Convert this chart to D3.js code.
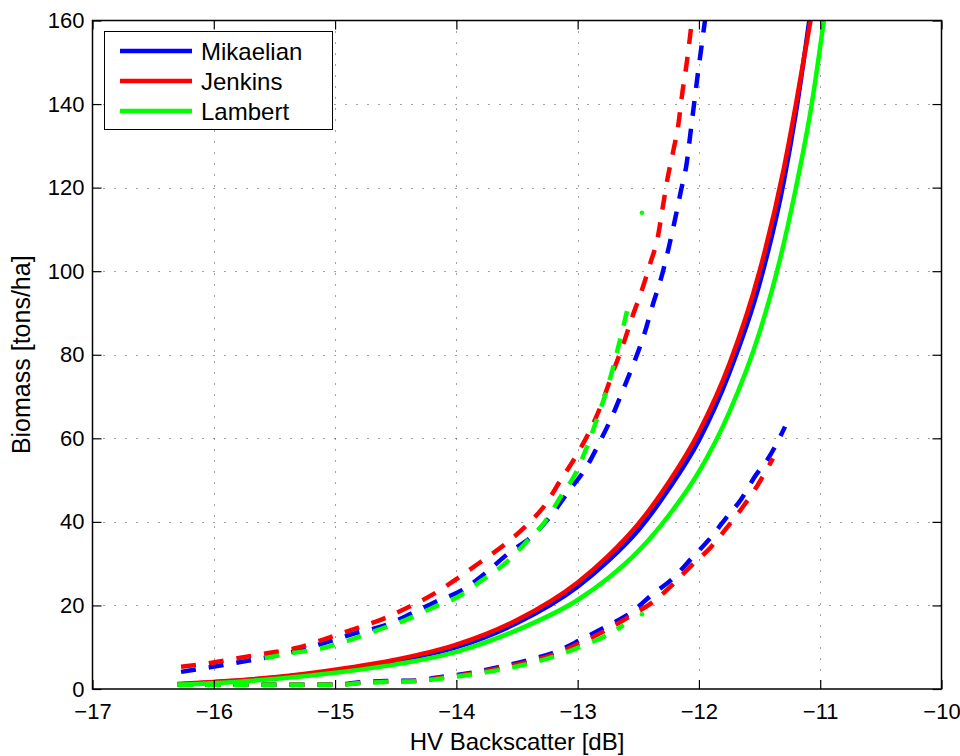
<!DOCTYPE html>
<html>
<head>
<meta charset="utf-8">
<script src="https://cdn.jsdelivr.net/npm/d3@7"></script>
<style>
  body { margin: 0; background: #fff; }
  text { font-family: "Liberation Sans", Arial, Helvetica, sans-serif; fill: #000; }
</style>
</head>
<body>
<svg id="chart" width="960" height="756"></svg>
<script>
// Axis ticks
const xTicks = [-17, -16, -15, -14, -13, -12, -11, -10];
const yTicks = [0, 20, 40, 60, 80, 100, 120, 140, 160];

// Models (legend order) and colours
const modelNames = ["Mikaelian", "Jenkins", "Lambert"];
const modelColors = ["#0000ff", "#ff0000", "#00ff00"];

// Central estimate (solid) : [HV backscatter dB, biomass t/ha]
const mikaelianMid = [[-16.3,1.1],[-16,1.6],[-15.5,2.7],[-15,4.4],[-14.5,6.7],[-14,10.0],[-13.5,15.8],[-13,24.5],[-12.75,30.6],[-12.5,38],[-12.25,47.8],[-12,59.5],[-11.75,75.6],[-11.5,97],[-11.3,121.5],[-11.2,138],[-11.09,160]];
const jenkinsMid   = [[-16.3,1.2],[-16,1.7],[-15.5,2.8],[-15,4.6],[-14.5,7.0],[-14,10.6],[-13.5,16.5],[-13,25.5],[-12.75,31.8],[-12.5,39.5],[-12.25,49.4],[-12,61.5],[-11.75,77.7],[-11.5,100],[-11.3,124.6],[-11.2,140],[-11.08,160]];
const lambertMid   = [[-16.3,1.0],[-16,1.4],[-15.5,2.4],[-15,3.9],[-14.5,5.9],[-14,8.9],[-13.5,14.1],[-13,21.3],[-12.75,26.5],[-12.5,33],[-12.25,41.5],[-12,52],[-11.75,66.2],[-11.5,85.4],[-11.35,100.7],[-11.2,120],[-11.07,140],[-10.97,160]];

// Upper bound (dashed)
const mikaelianHigh = [[-16.27,4.1],[-16.01,5.3],[-15.77,6.5],[-15.54,7.7],[-15.29,9.3],[-15.06,11.3],[-14.83,13.4],[-14.59,15.2],[-14.36,18.2],[-14.17,20.9],[-13.95,23.7],[-13.75,28],[-13.57,32.5],[-13.36,37],[-13.22,41.5],[-13.07,47.5],[-12.93,53],[-12.82,59],[-12.72,65],[-12.62,72],[-12.53,78.5],[-12.45,85],[-12.38,92],[-12.31,98.5],[-12.25,105.5],[-12.2,112],[-12.15,119],[-12.1,126],[-12.07,133],[-12.04,140],[-12.01,147],[-11.98,153.5],[-11.95,160],[-11.94,162]];
const jenkinsHigh   = [[-16.27,5.3],[-16.03,6.2],[-15.78,7.5],[-15.55,8.6],[-15.32,9.8],[-15.08,12],[-14.85,14.3],[-14.63,16.5],[-14.41,19.4],[-14.19,22.7],[-13.99,26.5],[-13.8,30.4],[-13.61,34.4],[-13.42,39.2],[-13.27,44],[-13.14,50],[-13.0,56.4],[-12.89,62.4],[-12.8,68.4],[-12.72,75],[-12.63,82],[-12.55,89],[-12.47,95.5],[-12.4,102],[-12.34,108],[-12.3,115],[-12.26,122],[-12.21,129],[-12.17,135],[-12.14,142],[-12.1,150],[-12.07,157],[-12.05,162]];
const lambertHigh   = [[-15.58,7.4],[-15.35,8.6],[-15.1,9.8],[-14.88,11.7],[-14.65,14.1],[-14.42,16.5],[-14.2,19.4],[-13.99,22],[-13.79,26],[-13.6,30],[-13.41,35.6],[-13.27,40],[-13.14,46],[-13.01,52],[-12.91,59],[-12.83,65.5],[-12.75,72.5],[-12.69,79],[-12.63,86],[-12.58,92]];
const lambertHighDots = [[-12.47,114]];

// Lower bound (dashed)
const mikaelianLow = [[-16.3,1.0],[-15.8,1.0],[-15.3,1.0],[-14.95,1.1],[-14.83,1.5],[-14.58,1.9],[-14.36,2.0],[-14.1,3.0],[-13.87,3.9],[-13.64,5.3],[-13.41,6.9],[-13.18,8.9],[-12.98,11.7],[-12.77,14.9],[-12.55,18.5],[-12.39,22.5],[-12.21,26.6],[-12.06,31.3],[-11.91,36],[-11.78,40.8],[-11.65,45.5],[-11.54,50.8],[-11.42,55.6],[-11.32,61],[-11.29,62.8]];
const jenkinsLow   = [[-16.3,1.0],[-15.8,1.0],[-15.3,1.0],[-14.95,1.1],[-14.83,1.4],[-14.58,1.8],[-14.36,1.9],[-14.1,2.8],[-13.87,3.7],[-13.64,5.0],[-13.41,6.5],[-13.18,8.4],[-12.98,11.0],[-12.77,14.0],[-12.57,17.4],[-12.38,20.8],[-12.21,25.2],[-12.06,29.6],[-11.9,34],[-11.77,38.6],[-11.64,43.5],[-11.52,48.6],[-11.42,53.6],[-11.39,55.2]];
const lambertLow   = [[-16.3,1.0],[-15.8,1.0],[-15.3,1.0],[-14.95,1.0],[-14.83,1.3],[-14.58,1.7],[-14.36,1.8],[-14.1,2.6],[-13.87,3.5],[-13.64,4.6],[-13.41,6.0],[-13.18,7.9],[-12.98,10.1],[-12.77,12.7],[-12.62,15.3]];
const lambertLowDots = [[-12.47,17.9]];

// Layout
const W = 960, H = 756;
const plot = { left: 92.5, right: 941.5, top: 20.5, bottom: 689 };

const svg = d3.select("#chart");
svg.append("rect").attr("width", W).attr("height", H).attr("fill", "#fff");

const x = d3.scaleLinear().domain([-17, -10]).range([plot.left, plot.right]);
const y = d3.scaleLinear().domain([0, 160]).range([plot.bottom, plot.top]);

// Dotted grid
const grid = svg.append("g").attr("stroke", "#444").attr("stroke-width", 1)
  .attr("stroke-dasharray", "1 10");
grid.selectAll("line.gx").data(xTicks.slice(1, -1)).join("line")
  .attr("x1", d => Math.round(x(d)) + 0.5).attr("x2", d => Math.round(x(d)) + 0.5)
  .attr("y1", plot.top).attr("y2", plot.bottom);
grid.selectAll("line.gy").data(yTicks.slice(1, -1)).join("line")
  .attr("y1", d => Math.round(y(d)) + 0.5).attr("y2", d => Math.round(y(d)) + 0.5)
  .attr("x1", plot.left).attr("x2", plot.right);

// Curves
svg.append("defs").append("clipPath").attr("id", "plotClip")
  .append("rect").attr("x", plot.left).attr("y", plot.top)
  .attr("width", plot.right - plot.left).attr("height", plot.bottom - plot.top);

const line = d3.line().x(d => x(d[0])).y(d => y(d[1])).curve(d3.curveMonotoneX);
const curves = svg.append("g").attr("clip-path", "url(#plotClip)")
  .attr("fill", "none").attr("stroke-width", 4.5).attr("stroke-linejoin", "round");

const groups = [
  { low: mikaelianLow, mid: mikaelianMid, high: mikaelianHigh, dots: [] },
  { low: jenkinsLow,   mid: jenkinsMid,   high: jenkinsHigh,   dots: [] },
  { low: lambertLow,   mid: lambertMid,   high: lambertHigh,   dots: lambertHighDots.concat(lambertLowDots) }
];

groups.forEach((g, i) => {
  const c = modelColors[i];
  curves.append("path").datum(g.low).attr("d", line).attr("stroke", c)
    .attr("stroke-dasharray", "15 13");
  curves.append("path").datum(g.mid).attr("d", line).attr("stroke", c);
  curves.append("path").datum(g.high).attr("d", line).attr("stroke", c)
    .attr("stroke-dasharray", "15 13");
  curves.selectAll(null).data(g.dots).join("circle")
    .attr("cx", d => x(d[0])).attr("cy", d => y(d[1])).attr("r", 2.3)
    .attr("fill", c).attr("stroke", "none");
});

// Axes (ticks pointing inward on all four sides)
const fontSize = 22;
const fmt = d3.format("d");
const axB = svg.append("g").attr("transform", `translate(0,${plot.bottom})`)
  .call(d3.axisBottom(x).tickValues(xTicks).tickSizeInner(-9).tickSizeOuter(0).tickPadding(14).tickFormat(fmt));
const axL = svg.append("g").attr("transform", `translate(${plot.left},0)`)
  .call(d3.axisLeft(y).tickValues(yTicks).tickSizeInner(-9).tickSizeOuter(0).tickPadding(8).tickFormat(fmt));
const axT = svg.append("g").attr("transform", `translate(0,${plot.top})`)
  .call(d3.axisTop(x).tickValues(xTicks).tickSizeInner(-9).tickSizeOuter(0).tickFormat(""));
const axR = svg.append("g").attr("transform", `translate(${plot.right},0)`)
  .call(d3.axisRight(y).tickValues(yTicks).tickSizeInner(-9).tickSizeOuter(0).tickFormat(""));
[axB, axL, axT, axR].forEach(a => {
  a.select(".domain").remove();
  a.selectAll(".tick line").attr("stroke", "#000").attr("stroke-width", 1.2);
  a.selectAll(".tick text").attr("font-size", fontSize).attr("fill", "#000")
    .attr("font-family", "\"Liberation Sans\", Arial, Helvetica, sans-serif");
});

// Frame
svg.append("rect").attr("x", plot.left).attr("y", plot.top)
  .attr("width", plot.right - plot.left).attr("height", plot.bottom - plot.top)
  .attr("fill", "none").attr("stroke", "#000").attr("stroke-width", 1.5);

// Axis titles
svg.append("text").attr("x", (plot.left + plot.right) / 2).attr("y", 750)
  .attr("text-anchor", "middle").attr("font-size", 24).text("HV Backscatter [dB]");
svg.append("text").attr("transform", `translate(30,${(plot.top + plot.bottom) / 2}) rotate(-90)`)
  .attr("text-anchor", "middle").attr("font-size", 25).text("Biomass [tons/ha]");

// Legend
const lg = svg.append("g");
lg.append("rect").attr("x", 104.5).attr("y", 31.5).attr("width", 228).attr("height", 98)
  .attr("fill", "#fff").attr("stroke", "#000").attr("stroke-width", 1);
modelNames.forEach((name, i) => {
  const ly = 51 + i * 30;
  lg.append("line").attr("x1", 120).attr("x2", 192).attr("y1", ly).attr("y2", ly)
    .attr("stroke", modelColors[i]).attr("stroke-width", 4.5);
  lg.append("text").attr("x", 201).attr("y", ly).attr("dy", "0.36em")
    .attr("font-size", 24).text(name);
});
</script>
</body>
</html>
